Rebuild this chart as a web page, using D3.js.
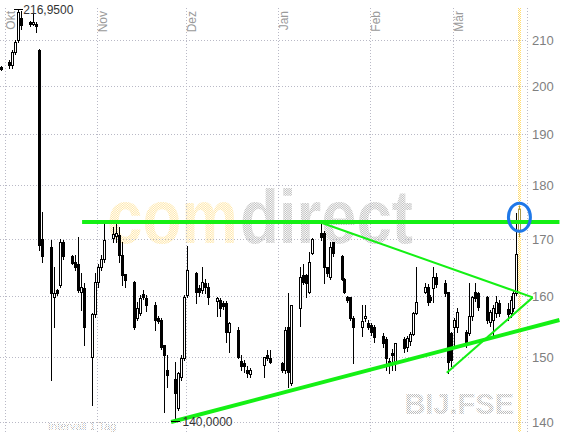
<!DOCTYPE html>
<html><head><meta charset="utf-8">
<script src="https://cdn.jsdelivr.net/npm/d3@7"></script>
<style>html,body{margin:0;padding:0;background:#fff;overflow:hidden}</style>
</head><body>
<svg id="chart" width="562" height="432"></svg>
<script>
// ---------- DATA ----------
const dates = ["2006-09-29","2006-10-02","2006-10-03","2006-10-04","2006-10-05","2006-10-06",
"2006-10-09","2006-10-10","2006-10-11","2006-10-12","2006-10-13",
"2006-10-16","2006-10-17","2006-10-18","2006-10-19","2006-10-20",
"2006-10-23","2006-10-24","2006-10-25","2006-10-26","2006-10-27",
"2006-10-30","2006-10-31","2006-11-01","2006-11-02","2006-11-03",
"2006-11-06","2006-11-07","2006-11-08","2006-11-09","2006-11-10",
"2006-11-13","2006-11-14","2006-11-15","2006-11-16","2006-11-17",
"2006-11-20","2006-11-21","2006-11-22","2006-11-23","2006-11-24",
"2006-11-27","2006-11-28","2006-11-29","2006-11-30","2006-12-01",
"2006-12-04","2006-12-05","2006-12-06","2006-12-07","2006-12-08",
"2006-12-11","2006-12-12","2006-12-13","2006-12-14","2006-12-15",
"2006-12-18","2006-12-19","2006-12-20","2006-12-21","2006-12-22",
"2006-12-27","2006-12-28","2006-12-29",
"2007-01-02","2007-01-03","2007-01-04","2007-01-05",
"2007-01-08","2007-01-09","2007-01-10","2007-01-11","2007-01-12",
"2007-01-15","2007-01-16","2007-01-17","2007-01-18","2007-01-19",
"2007-01-22","2007-01-23","2007-01-24","2007-01-25","2007-01-26",
"2007-01-29","2007-01-30","2007-01-31","2007-02-01","2007-02-02",
"2007-02-05","2007-02-06","2007-02-07","2007-02-08","2007-02-09",
"2007-02-12","2007-02-13","2007-02-14","2007-02-15","2007-02-16",
"2007-02-19","2007-02-20","2007-02-21","2007-02-22","2007-02-23",
"2007-02-26","2007-02-27","2007-02-28","2007-03-01","2007-03-02",
"2007-03-05","2007-03-06","2007-03-07","2007-03-08","2007-03-09",
"2007-03-12","2007-03-13","2007-03-14","2007-03-15","2007-03-16",
"2007-03-19","2007-03-20","2007-03-21","2007-03-22","2007-03-23"];
const opens = [204.0,205.1,204.5,207.3,209.9,215.0,
214.1,213.6,213.6,207.8,170.0,
168.5,159.8,161.0,161.9,169.5,
167.0,166.0,165.5,160.7,161.4,
150.0,157.0,162.4,165.0,166.5,
170.2,170.6,170.7,167.2,163.8,
162.4,156.4,157.2,160.4,159.7,
158.5,156.4,156.0,151.9,147.9,
146.6,142.1,146.8,149.8,160.2,
164.0,161.4,161.0,162.3,161.6,
159.2,159.4,158.9,158.9,154.0,
154.4,149.3,149.0,148.0,147.3,
148.7,150.3,149.8,
149.0,147.9,154.9,145.9,
158.0,163.7,163.7,160.7,167.5,
171.1,171.1,165.0,163.3,169.4,
167.0,163.0,159.9,159.8,156.4,
154.9,156.4,155.5,155.2,154.9,
153.4,152.9,149.4,150.6,149.2,
152.9,151.6,152.5,153.7,157.2,
160.7,161.6,159.8,161.4,163.3,
162.3,160.7,153.9,154.9,154.9,
154.0,153.9,156.6,160.7,160.5,
159.8,155.7,156.0,157.2,158.9,
157.9,157.2,158.0,160.5,171.6];
const highs = [204.3,205.6,207.8,210.0,216.95,216.5,
214.3,216.2,214.1,208.0,175.0,
169.9,165.0,161.3,170.0,169.9,
167.2,167.2,170.4,164.0,162.3,
157.2,164.0,165.5,167.2,173.1,
172.2,172.9,172.2,169.5,163.9,
162.6,159.0,160.2,161.0,160.2,
159.0,156.7,156.4,152.0,150.3,
149.2,147.6,150.3,160.2,168.7,
164.2,161.9,165.0,163.0,162.3,
159.9,159.7,159.2,159.2,155.7,
154.9,150.3,149.5,148.5,148.2,
150.0,151.1,151.1,
149.2,154.9,160.5,158.5,
165.0,165.5,163.8,167.7,170.2,
173.1,171.4,165.1,169.4,169.5,
167.1,163.2,160.0,159.9,156.7,
158.5,158.5,156.0,155.5,155.2,
153.9,153.2,149.8,151.3,152.2,
153.2,153.4,154.0,157.4,165.0,
162.3,162.0,160.2,165.0,164.0,
162.8,160.7,154.0,156.4,158.0,
154.4,162.3,160.0,162.3,160.7,
160.0,157.7,158.5,160.0,159.4,
158.8,160.0,161.0,174.8,176.0];
const lows = [203.4,203.9,203.9,207.0,209.5,212.5,
213.2,213.3,211.8,168.0,166.0,
146.4,154.9,160.2,161.5,166.5,
165.5,164.5,160.7,157.7,151.9,
142.5,156.5,161.5,164.5,166.0,
169.5,169.5,166.0,161.9,161.6,
154.5,156.0,156.8,159.5,157.5,
154.4,155.5,151.2,141.5,145.3,
140.0,141.8,146.4,149.5,159.8,
158.9,160.0,160.5,160.5,158.7,
156.7,156.7,157.8,152.4,150.8,
149.8,147.9,147.7,146.8,146.8,
146.8,149.6,149.0,
147.6,147.4,145.3,145.6,
155.0,162.0,159.8,160.5,167.3,
169.9,162.3,163.5,163.0,166.9,
162.8,160.5,159.0,156.0,149.0,
153.4,155.9,154.5,153.5,152.4,
151.6,147.9,147.4,148.0,147.9,
150.8,151.0,152.0,153.5,157.0,
160.5,158.5,159.0,159.0,161.5,
160.0,147.5,148.5,152.0,154.0,
151.6,153.5,156.0,159.2,157.7,
155.5,155.0,153.5,156.5,156.6,
156.0,156.5,157.5,160.2,170.5];
const closes = [203.6,204.5,207.3,209.6,216.3,213.4,
213.6,214.1,213.2,169.0,166.9,
160.5,160.5,160.5,169.4,167.0,
165.8,165.1,161.0,161.6,154.9,
157.0,162.4,165.0,166.5,169.9,
171.0,171.1,167.2,163.7,162.8,
154.9,158.0,159.7,159.8,158.5,
156.0,155.9,151.6,150.3,147.1,
144.4,147.4,149.8,159.8,164.5,
160.7,160.7,162.4,161.6,159.8,
159.7,158.0,158.4,154.0,155.5,
150.0,148.5,148.6,147.4,148.0,
150.0,149.8,149.2,
147.9,154.4,147.6,158.5,
163.3,162.4,162.3,166.0,170.0,
170.4,165.0,164.0,168.5,167.5,
163.0,160.7,159.4,156.4,154.9,
155.9,156.6,154.9,154.0,153.2,
152.2,149.8,149.0,150.3,152.2,
151.4,153.0,153.7,157.2,159.0,
161.6,159.0,159.4,163.3,162.0,
160.5,149.2,149.5,156.0,157.4,
152.2,156.6,159.8,159.7,158.2,
156.0,157.4,158.0,159.0,157.2,
157.0,159.4,160.5,167.3,175.6];

const monthDates  = ["2006-10-01","2006-11-01","2006-12-01","2007-01-01","2007-02-01","2007-03-01"];
const monthLabels = ["Okt","Nov","Dez","Jan","Feb","Mär"];
const priceTicks  = [140,150,160,170,180,190,200,210];

const highDate = "2006-10-05", highValue = 216.95;
const lowDate  = "2006-11-27", lowValue  = 140.0;
const currentDate = "2007-03-23";

// trend lines (start date/value -> end date/value)
const trendStartDates  = ["2006-10-27","2006-11-26","2007-01-15","2007-02-27"];
const trendStartValues = [173.1, 140.0, 173.1, 147.5];
const trendEndDates    = ["2007-04-06","2007-04-06","2007-03-28","2007-03-28"];
const trendEndValues   = [173.1, 156.0, 159.8, 159.8];

const markDate = "2007-03-23", markValue = 174.0;

const watermarkParts = ["com", "direct"];
const symbolText = "BIJ.FSE";
const intervalText = "Intervall 1 Tag";

// ---------- STYLE ----------
const trendWidths = [4, 4, 2, 2];
const GREEN = "#14f014";
const FONT = "Liberation Sans, Arial, sans-serif";

// ---------- SCALES ----------
const svg = d3.select("#chart");
const parse = d3.utcParse("%Y-%m-%d");
const DAY = 864e5;
const t0 = Date.UTC(2006, 9, 1);
const PXDAY = 2.965;
const x = d3.scaleUtc().domain([new Date(t0), new Date(t0 + 190*DAY)]).range([5, 5 + 190*PXDAY]);
const y = d3.scaleLog().domain([140, 210]).range([422, 40]);
const xMid = s => x(new Date(parse(s).getTime() + DAY/2));

const defs = svg.append("defs");
function checker(id, color){
  const p = defs.append("pattern").attr("id", id).attr("width", 2).attr("height", 2)
    .attr("patternUnits", "userSpaceOnUse");
  p.append("rect").attr("width", 1).attr("height", 1).attr("fill", color);
  p.append("rect").attr("x", 1).attr("y", 1).attr("width", 1).attr("height", 1).attr("fill", color);
}
checker("dotYellow", "#ffe6a6");
checker("dotGrey", "#bdbdbd");
checker("dotGreyText", "#a8a8a8");
checker("dotBand", "#ffdc70");

svg.append("rect").attr("width", 562).attr("height", 432).attr("fill", "#fff");

// watermark (two parts, side by side, squeezed horizontally)
const wmLeft = [107, 240], wmWidth = [131, 173], wmFill = ["url(#dotYellow)", "url(#dotGrey)"];
watermarkParts.forEach((t, i) => {
  const el = svg.append("text").attr("x", 0).attr("y", 0)
    .attr("font-family", FONT).attr("font-weight", "bold").attr("font-size", 76)
    .attr("fill", wmFill[i]).text(t);
  const w = el.node().getComputedTextLength();
  el.attr("transform", `translate(${wmLeft[i]},243) scale(${wmWidth[i] / w},1)`);
});

svg.append("text").attr("x", 514).attr("y", 414).attr("text-anchor", "end")
  .attr("font-family", FONT).attr("font-weight", "bold")
  .attr("font-size", 29).attr("fill", "url(#dotGrey)").text(symbolText);

svg.append("text").attr("x", 48).attr("y", 430)
  .attr("font-family", FONT)
  .attr("font-size", 11).attr("fill", "url(#dotGreyText)").text(intervalText);

// grid
const PLOT_R = 527;
const grid = svg.append("g").attr("stroke", "#b9b9c6").attr("stroke-width", 1)
  .attr("stroke-dasharray", "1,2").attr("shape-rendering", "crispEdges");
grid.selectAll("line.h").data(priceTicks).enter().append("line")
  .attr("x1", 0).attr("x2", PLOT_R)
  .attr("y1", d => Math.round(y(d)) + 0.5).attr("y2", d => Math.round(y(d)) + 0.5);
grid.selectAll("line.v").data(monthDates).enter().append("line")
  .attr("x1", d => Math.round(x(parse(d))) + 0.5).attr("x2", d => Math.round(x(parse(d))) + 0.5)
  .attr("y1", 8).attr("y2", 432);
grid.append("line").attr("x1", PLOT_R + 0.5).attr("x2", PLOT_R + 0.5).attr("y1", 8).attr("y2", 432);

// current-day band
svg.append("rect").attr("x", Math.round(xMid(currentDate)) - 1).attr("y", 8)
  .attr("width", 3).attr("height", 424).attr("fill", "url(#dotBand)");

// y axis labels
svg.append("g").selectAll("text").data(priceTicks).enter().append("text")
  .attr("x", 532).attr("y", d => y(d)).attr("dy", "0.36em")
  .attr("font-family", FONT).attr("font-size", 13)
  .attr("fill", "#7f7f7f").text(d => d);

// month labels
svg.append("g").selectAll("text").data(monthDates).enter().append("text")
  .attr("transform", (d) => `translate(${Math.round(x(parse(d))) + 9.5},11) rotate(-90)`)
  .attr("text-anchor", "end")
  .attr("font-family", FONT).attr("font-size", 12)
  .attr("fill", "#9a9a9a").text((d, i) => monthLabels[i]);

// candles
const candles = dates.map((d, i) => ({d, o: opens[i], h: highs[i], l: lows[i], c: closes[i], last: d === currentDate}));
const cg = svg.append("g").attr("shape-rendering", "crispEdges");
const g1 = cg.selectAll("g").data(candles).enter().append("g");
g1.append("line")
  .attr("x1", d => Math.round(xMid(d.d)) + 0.5).attr("x2", d => Math.round(xMid(d.d)) + 0.5)
  .attr("y1", d => Math.round(y(d.h))).attr("y2", d => Math.round(y(d.l)) + 1)
  .attr("stroke", d => d.last ? "#a8984a" : "#000").attr("stroke-width", 1);
g1.append("rect")
  .attr("x", d => Math.round(xMid(d.d)) - 1 + 0.5)
  .attr("y", d => Math.round(y(Math.max(d.o, d.c))) + 0.5)
  .attr("width", 2)
  .attr("height", d => Math.max(1, Math.round(y(Math.min(d.o, d.c))) - Math.round(y(Math.max(d.o, d.c)))))
  .attr("fill", d => d.last ? "#fff" : (d.c >= d.o ? "#fff" : "#000"))
  .attr("stroke", d => d.last ? "#a8984a" : "#000").attr("stroke-width", 1);

// high marker
const hx = xMid(highDate), hy = Math.round(y(highValue)) + 0.5;
svg.append("line").attr("x1", hx - 4).attr("x2", hx + 5).attr("y1", hy).attr("y2", hy)
  .attr("stroke", "#000").attr("shape-rendering", "crispEdges");
svg.append("text").attr("x", hx + 5).attr("y", hy + 4)
  .attr("font-family", FONT).attr("font-size", 12)
  .attr("fill", "#333").text(d3.format(".4f")(highValue).replace(".", ","));

// trend lines
const tl = svg.append("g");
trendStartDates.forEach((s, i) => {
  tl.append("line")
    .attr("x1", x(parse(s))).attr("y1", y(trendStartValues[i]))
    .attr("x2", x(parse(trendEndDates[i]))).attr("y2", y(trendEndValues[i]))
    .attr("stroke", GREEN).attr("stroke-width", trendWidths[i]);
});

// low marker
const lx = xMid(lowDate), ly = Math.round(y(lowValue)) - 0.5;
svg.append("line").attr("x1", lx - 4).attr("x2", lx + 5).attr("y1", ly).attr("y2", ly)
  .attr("stroke", "#000").attr("shape-rendering", "crispEdges");
svg.append("text").attr("x", lx + 7).attr("y", ly + 4.5)
  .attr("font-family", FONT).attr("font-size", 12)
  .attr("fill", "#333").text(d3.format(".4f")(lowValue).replace(".", ","));

// highlight ellipse
svg.append("ellipse").attr("cx", xMid(markDate)).attr("cy", y(markValue))
  .attr("rx", 11).attr("ry", 14).attr("fill", "none")
  .attr("stroke", "#1f78e8").attr("stroke-width", 3);
</script>
</body></html>
